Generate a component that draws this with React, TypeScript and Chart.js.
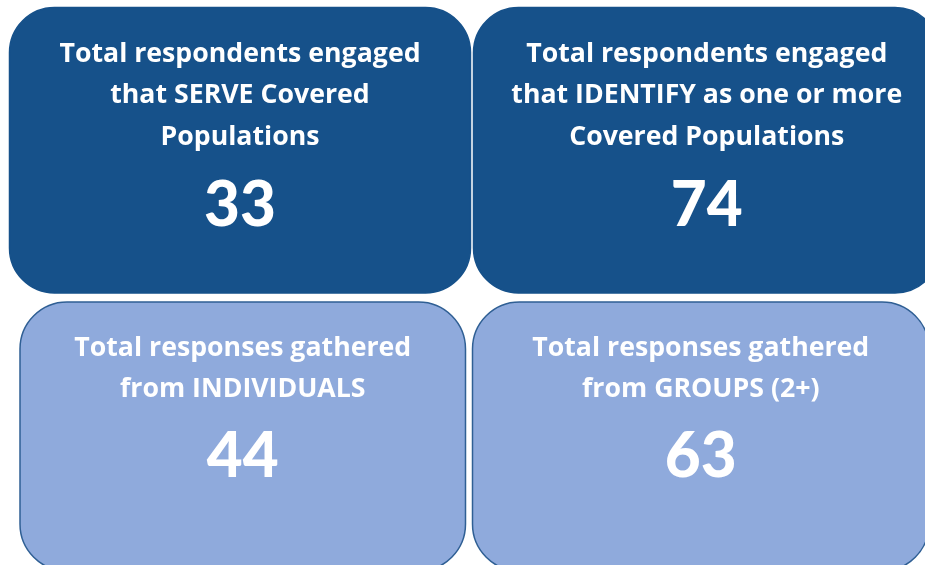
import React, { useEffect, useRef } from "react";
import { Chart, registerables } from "chart.js";

Chart.register(...registerables);

// ---- data ----
const cardTitles: string[][] = [
  ["Total respondents engaged", "that SERVE Covered", "Populations"],
  ["Total respondents engaged", "that IDENTIFY as one or more", "Covered Populations"],
  ["Total responses gathered", "from INDIVIDUALS"],
  ["Total responses gathered", "from GROUPS (2+)"],
];
const cardValues: number[] = [33, 74, 44, 63];

// ---- layout (in canvas units, mapped through the chart's linear scales) ----
const W = 925;
const H = 565;
const boxes = [
  { x0: 9.5, x1: 470.5, y0: 7.5, y1: 293, r: 45, fill: "#16518A", stroke: "#16518A", lines: [62, 103, 145], num: 226 },
  { x0: 473.5, x1: 940, y0: 7.5, y1: 293, r: 45, fill: "#16518A", stroke: "#16518A", lines: [62, 103, 145], num: 226 },
  { x0: 20, x1: 465.5, y0: 302, y1: 571, r: 47, fill: "#8FAADC", stroke: "#2F5F94", lines: [356, 397], num: 477 },
  { x0: 472.5, x1: 929, y0: 302, y1: 571, r: 47, fill: "#8FAADC", stroke: "#2F5F94", lines: [356, 397], num: 477 },
];

const cardsPlugin = {
  id: "cards",
  afterDraw(chart: any) {
    const { ctx, scales } = chart;
    const sx = scales.x;
    const sy = scales.y;
    ctx.save();
    boxes.forEach((b, i) => {
      const left = sx.getPixelForValue(b.x0);
      const right = sx.getPixelForValue(b.x1);
      const top = sy.getPixelForValue(b.y0);
      const bottom = sy.getPixelForValue(b.y1);
      ctx.beginPath();
      ctx.roundRect(left, top, right - left, bottom - top, b.r);
      ctx.fillStyle = b.fill;
      ctx.fill();
      ctx.lineWidth = 1.5;
      ctx.strokeStyle = b.stroke;
      ctx.stroke();

      const cx = (left + right) / 2;
      ctx.fillStyle = "#FFFFFF";
      ctx.textAlign = "center";
      ctx.textBaseline = "alphabetic";
      ctx.font = "bold 26.7px 'Open Sans'";
      cardTitles[i].forEach((line, k) => {
        ctx.fillText(line, cx, sy.getPixelForValue(b.lines[k]));
      });
      ctx.font = "900 62px Lato";
      ctx.fillText(String(cardValues[i]), cx, sy.getPixelForValue(b.num));
    });
    ctx.restore();
  },
};

export default function App() {
  const ref = useRef<HTMLCanvasElement | null>(null);
  useEffect(() => {
    if (!ref.current) return;
    const chart = new Chart(ref.current, {
      type: "scatter",
      data: { datasets: [{ data: [], pointRadius: 0 }] },
      options: {
        animation: false,
        responsive: false,
        devicePixelRatio: 1,
        layout: { padding: 0 },
        plugins: { legend: { display: false }, tooltip: { enabled: false } },
        scales: {
          x: { type: "linear", min: 0, max: W, display: false },
          y: { type: "linear", min: 0, max: H, reverse: true, display: false },
        },
      },
      plugins: [cardsPlugin],
    });
    return () => chart.destroy();
  }, []);
  return (
    <div style={{ position: "absolute", left: 0, top: 0, width: W, height: H, background: "#FFFFFF" }}>
      <canvas ref={ref} width={W} height={H} />
    </div>
  );
}
